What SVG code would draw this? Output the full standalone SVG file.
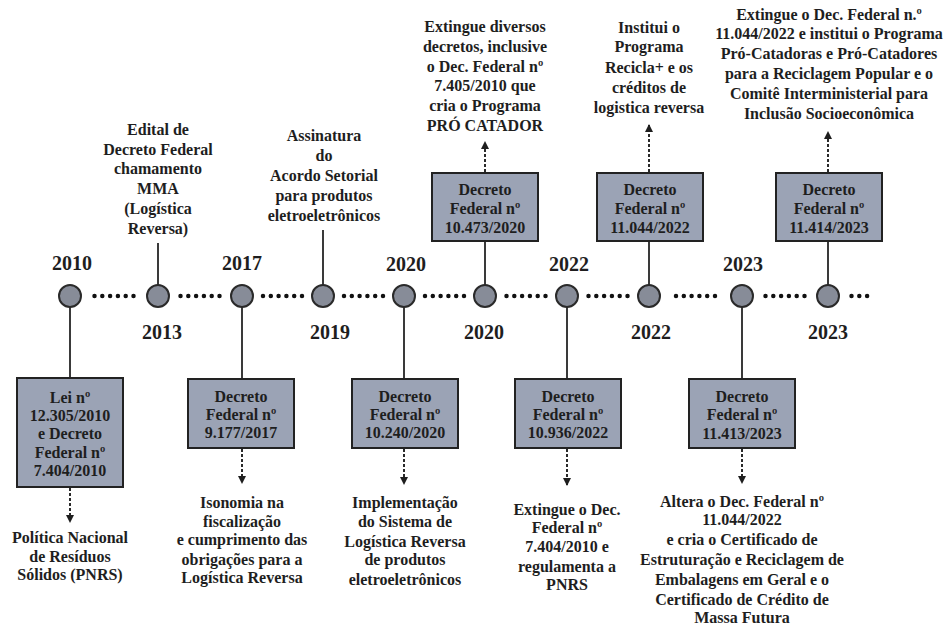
<svg xmlns="http://www.w3.org/2000/svg" width="948" height="625" viewBox="0 0 948 625" font-family="'Liberation Serif', 'DejaVu Serif', serif">
<defs>
<style>
text{font-family:'Liberation Serif','Tinos','DejaVu Serif','Noto Serif','Times New Roman',Times,serif;font-weight:bold;fill:#1e1e1e;text-anchor:middle}
.t{font-size:16px}
.yr{font-size:20px}
.box{fill:#9ba3b5;stroke:#222;stroke-width:2}
.dot{fill:#878c98;stroke:#2a2a2a;stroke-width:2}
.ln{stroke:#3a3a3a;stroke-width:2;fill:none}
.da{stroke:#2a2a2a;stroke-width:2;stroke-dasharray:3 2;fill:none}
.dots{stroke:#111;stroke-width:4.5;stroke-linecap:round;stroke-dasharray:0 7.8;fill:none}
</style>
<marker id="ah" viewBox="0 0 8 8" refX="7" refY="4" markerWidth="4" markerHeight="4" orient="auto" markerUnits="strokeWidth">
<path d="M0,0 L8,4 L0,8 z" fill="#1e1e1e"/>
</marker>
</defs>
<rect width="948" height="625" fill="#ffffff"/>

<g id="connectors">
<line class="dots" x1="94.5" y1="296" x2="134" y2="296"/>
<line class="dots" x1="180.5" y1="296" x2="220" y2="296"/>
<line class="dots" x1="263" y1="296" x2="302.5" y2="296"/>
<line class="dots" x1="344" y1="296" x2="383.5" y2="296"/>
<line class="dots" x1="425" y1="296" x2="464.5" y2="296"/>
<line class="dots" x1="506.5" y1="296" x2="546" y2="296"/>
<line class="dots" x1="588.5" y1="296" x2="628" y2="296"/>
<line class="dots" x1="676" y1="296" x2="715.5" y2="296"/>
<line class="dots" x1="765.5" y1="296" x2="805" y2="296"/>
<line class="dots" x1="851.5" y1="296" x2="867.5" y2="296"/>
<line class="ln" x1="70" y1="307" x2="70" y2="378"/>
<line class="ln" x1="158" y1="243" x2="158" y2="285"/>
<line class="ln" x1="242" y1="307" x2="242" y2="379"/>
<line class="ln" x1="323" y1="230" x2="323" y2="285"/>
<line class="ln" x1="404" y1="307" x2="404" y2="379"/>
<line class="ln" x1="485" y1="241" x2="485" y2="285"/>
<line class="ln" x1="567" y1="307" x2="567" y2="379"/>
<line class="ln" x1="649" y1="241" x2="649" y2="285"/>
<line class="ln" x1="742" y1="307" x2="742" y2="379"/>
<line class="ln" x1="828" y1="241" x2="828" y2="285"/>
<line class="da" x1="70" y1="488" x2="70" y2="522" marker-end="url(#ah)"/>
<line class="da" x1="242" y1="449" x2="242" y2="483" marker-end="url(#ah)"/>
<line class="da" x1="404" y1="449" x2="404" y2="484" marker-end="url(#ah)"/>
<line class="da" x1="567" y1="449" x2="567" y2="485" marker-end="url(#ah)"/>
<line class="da" x1="742" y1="449" x2="742" y2="483" marker-end="url(#ah)"/>
<line class="da" x1="485" y1="172" x2="485" y2="142" marker-end="url(#ah)"/>
<line class="da" x1="649" y1="172" x2="649" y2="125" marker-end="url(#ah)"/>
<line class="da" x1="828" y1="172" x2="828" y2="132" marker-end="url(#ah)"/>
</g>

<g id="timeline">
<circle class="dot" cx="70" cy="296" r="11"/>
<circle class="dot" cx="158" cy="296" r="11"/>
<circle class="dot" cx="242" cy="296" r="11"/>
<circle class="dot" cx="323" cy="296" r="11"/>
<circle class="dot" cx="404" cy="296" r="11"/>
<circle class="dot" cx="485" cy="296" r="11"/>
<circle class="dot" cx="567" cy="296" r="11"/>
<circle class="dot" cx="649" cy="296" r="11"/>
<circle class="dot" cx="742" cy="296" r="11"/>
<circle class="dot" cx="828" cy="296" r="11"/>
<text class="yr" x="72" y="270">2010</text>
<text class="yr" x="242" y="270">2017</text>
<text class="yr" x="406" y="271">2020</text>
<text class="yr" x="569" y="271">2022</text>
<text class="yr" x="743" y="271">2023</text>
<text class="yr" x="162" y="339">2013</text>
<text class="yr" x="330" y="339">2019</text>
<text class="yr" x="484" y="339">2020</text>
<text class="yr" x="651" y="339">2022</text>
<text class="yr" x="828" y="339">2023</text>
</g>

<g id="n2010">
<rect class="box" x="17" y="378" width="106" height="109"/>
<text class="t" x="70" y="403">Lei nº</text>
<text class="t" x="70" y="421">12.305/2010</text>
<text class="t" x="70" y="439">e Decreto</text>
<text class="t" x="70" y="458">Federal nº</text>
<text class="t" x="70" y="476">7.404/2010</text>
<text class="t" x="70" y="543">Política Nacional</text>
<text class="t" x="70" y="562">de Resíduos</text>
<text class="t" x="70" y="580">Sólidos (PNRS)</text>
</g>

<g id="n2013">
<text class="t" x="158" y="135">Edital de</text>
<text class="t" x="158" y="155">Decreto Federal</text>
<text class="t" x="158" y="174">chamamento</text>
<text class="t" x="158" y="194">MMA</text>
<text class="t" x="158" y="214">(Logística</text>
<text class="t" x="158" y="234">Reversa)</text>
</g>

<g id="n2017">
<rect class="box" x="188" y="379" width="106" height="69"/>
<text class="t" x="241" y="402">Decreto</text>
<text class="t" x="241" y="420">Federal nº</text>
<text class="t" x="241" y="438">9.177/2017</text>
<text class="t" x="242" y="508">Isonomia na</text>
<text class="t" x="242" y="527">fiscalização</text>
<text class="t" x="242" y="545">e cumprimento das</text>
<text class="t" x="242" y="565">obrigações para a</text>
<text class="t" x="242" y="583">Logística Reversa</text>
</g>

<g id="n2019">
<text class="t" x="324" y="141">Assinatura</text>
<text class="t" x="324" y="161">do</text>
<text class="t" x="324" y="181">Acordo Setorial</text>
<text class="t" x="324" y="201">para produtos</text>
<text class="t" x="324" y="221">eletroeletrônicos</text>
</g>

<g id="n2020a">
<rect class="box" x="352" y="379" width="106" height="69"/>
<text class="t" x="405" y="402">Decreto</text>
<text class="t" x="405" y="420">Federal nº</text>
<text class="t" x="405" y="438">10.240/2020</text>
<text class="t" x="405" y="508">Implementação</text>
<text class="t" x="405" y="527">do Sistema de</text>
<text class="t" x="405" y="547">Logística Reversa</text>
<text class="t" x="405" y="565">de produtos</text>
<text class="t" x="405" y="585">eletroeletrônicos</text>
</g>

<g id="n2020b">
<rect class="box" x="432" y="173" width="106" height="68"/>
<text class="t" x="485" y="195">Decreto</text>
<text class="t" x="485" y="214">Federal nº</text>
<text class="t" x="485" y="233">10.473/2020</text>
<text class="t" x="485" y="32">Extingue diversos</text>
<text class="t" x="485" y="52">decretos, inclusive</text>
<text class="t" x="485" y="72">o Dec. Federal nº</text>
<text class="t" x="485" y="91">7.405/2010 que</text>
<text class="t" x="485" y="111">cria o Programa</text>
<text class="t" x="485" y="131">PRÓ CATADOR</text>
</g>

<g id="n2022a">
<rect class="box" x="515" y="379" width="106" height="69"/>
<text class="t" x="568" y="402">Decreto</text>
<text class="t" x="568" y="420">Federal nº</text>
<text class="t" x="568" y="438">10.936/2022</text>
<text class="t" x="567" y="515">Extingue o Dec.</text>
<text class="t" x="567" y="533">Federal nº</text>
<text class="t" x="567" y="552">7.404/2010 e</text>
<text class="t" x="567" y="572">regulamenta a</text>
<text class="t" x="567" y="590">PNRS</text>
</g>

<g id="n2022b">
<rect class="box" x="597" y="173" width="106" height="68"/>
<text class="t" x="650" y="195">Decreto</text>
<text class="t" x="650" y="214">Federal nº</text>
<text class="t" x="650" y="233">11.044/2022</text>
<text class="t" x="649" y="33">Institui o</text>
<text class="t" x="649" y="52">Programa</text>
<text class="t" x="649" y="73">Recicla+ e os</text>
<text class="t" x="649" y="93">créditos de</text>
<text class="t" x="649" y="113">logistica reversa</text>
</g>

<g id="n2023a">
<rect class="box" x="689" y="379" width="106" height="69"/>
<text class="t" x="742" y="402">Decreto</text>
<text class="t" x="742" y="420">Federal nº</text>
<text class="t" x="742" y="439">11.413/2023</text>
<text class="t" x="742" y="507">Altera o Dec. Federal nº</text>
<text class="t" x="742" y="525">11.044/2022</text>
<text class="t" x="742" y="545">e cria o Certificado de</text>
<text class="t" x="742" y="565">Estruturação e Reciclagem de</text>
<text class="t" x="742" y="585">Embalagens em Geral e o</text>
<text class="t" x="742" y="605">Certificado de Crédito de</text>
<text class="t" x="742" y="623">Massa Futura</text>
</g>

<g id="n2023b">
<rect class="box" x="776" y="173" width="106" height="68"/>
<text class="t" x="829" y="195">Decreto</text>
<text class="t" x="829" y="214">Federal nº</text>
<text class="t" x="829" y="233">11.414/2023</text>
<text class="t" x="829" y="20">Extingue o Dec. Federal n.º</text>
<text class="t" x="829" y="39">11.044/2022 e institui o Programa</text>
<text class="t" x="829" y="59">Pró-Catadoras e Pró-Catadores</text>
<text class="t" x="829" y="79">para a Reciclagem Popular e o</text>
<text class="t" x="829" y="99">Comitê Interministerial para</text>
<text class="t" x="829" y="119">Inclusão Socioeconômica</text>
</g>
</svg>
